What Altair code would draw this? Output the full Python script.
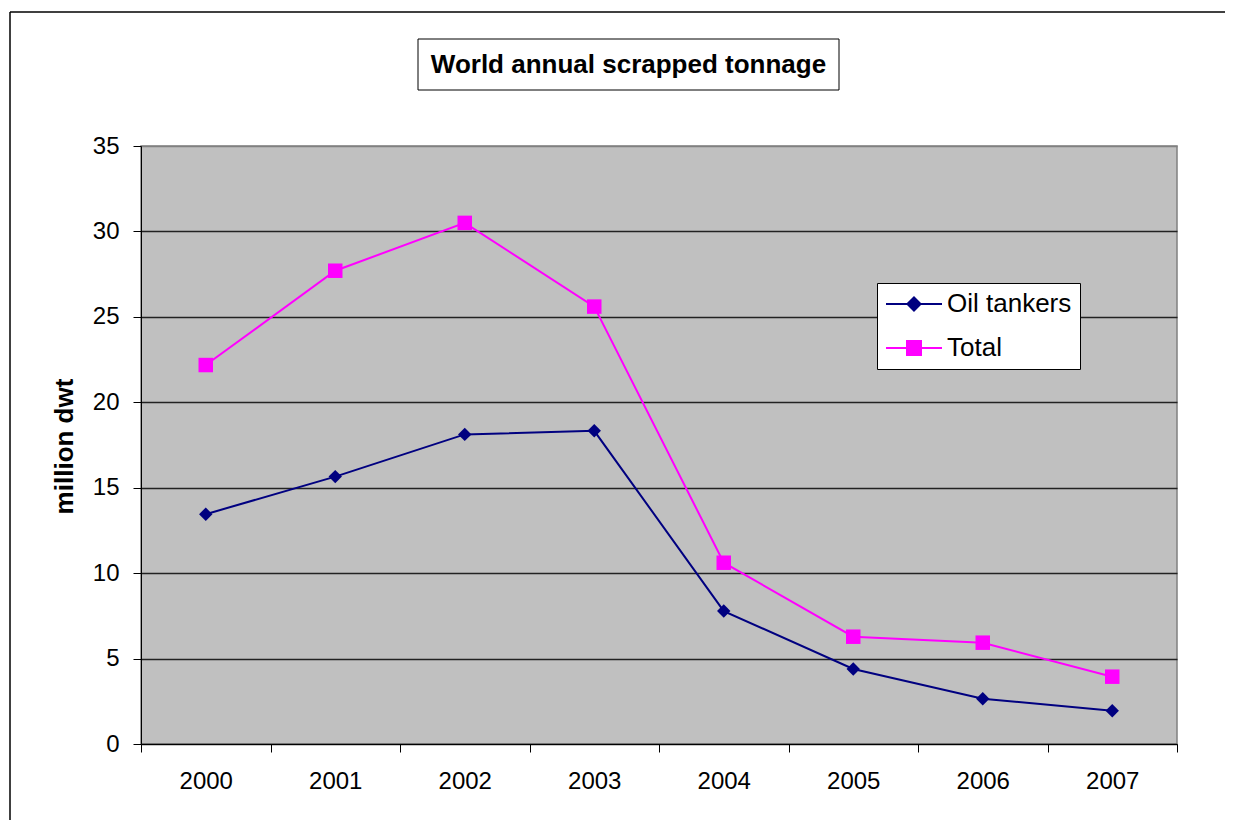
import altair as alt
import pandas as pd

years = ["2000", "2001", "2002", "2003", "2004", "2005", "2006", "2007"]
oil_tankers = [13.45, 15.65, 18.12, 18.33, 7.78, 4.39, 2.65, 1.95]
total = [22.18, 27.7, 30.5, 25.6, 10.61, 6.28, 5.93, 3.94]
series_names = ["Oil tankers", "Total"]
series_colors = ["#000080", "#FF00FF"]
marker_shapes = ["diamond", "square"]
marker_sizes = [180, 210]
legend_shapes = [
    "M-1,0L1,0M-0.235,0L0,-0.235L0.235,0L0,0.235Z",
    "M-1,0L1,0M-0.25,-0.25L0.25,-0.25L0.25,0.25L-0.25,0.25Z",
]
y_ticks = [0, 5, 10, 15, 20, 25, 30, 35]
chart_title = "World annual scrapped tonnage"
y_title = "million dwt"

rows = []
for i, yr in enumerate(years):
    rows.append({"year": yr, "series": series_names[0], "value": oil_tankers[i]})
    rows.append({"year": yr, "series": series_names[1], "value": total[i]})
df = pd.DataFrame(rows)

FONT = "Liberation Sans"

x_enc = alt.X(
    "year:N",
    sort=years,
    bandPosition=0.5,
    scale=alt.Scale(type="band", paddingInner=0, paddingOuter=0),
    axis=alt.Axis(
        title=None,
        labelAngle=0,
        labelFont=FONT,
        labelFontSize=24,
        labelColor="black",
        labelPadding=17,
        tickSize=8,
        tickColor="black",
        tickBand="extent",
        domainColor="black",
        domainWidth=1,
        grid=False,
    ),
)
y_enc = alt.Y(
    "value:Q",
    scale=alt.Scale(domain=[0, 35], nice=False),
    axis=alt.Axis(
        values=y_ticks,
        title=y_title,
        titleFont=FONT,
        titleFontSize=26,
        titleFontWeight="bold",
        titleColor="black",
        titleAngle=270,
        titleX=-77,
        titleY=300,
        titleAlign="center",
        titleBaseline="middle",
        labelFont=FONT,
        labelFontSize=24,
        labelColor="black",
        labelPadding=14,
        tickSize=8,
        tickColor="black",
        domainColor="black",
        grid=True,
        gridColor=alt.condition("datum.value == 35", alt.value("#808080"), alt.value("#222222")),
        gridWidth=1.3,
    ),
)

color_scale = alt.Scale(domain=series_names, range=series_colors)

lines = alt.Chart(df).mark_line(strokeWidth=2).encode(
    x=x_enc, y=y_enc,
    color=alt.Color("series:N", scale=color_scale, legend=None),
)

points = alt.Chart(df).mark_point(filled=True, opacity=1).encode(
    x=x_enc, y=y_enc,
    color=alt.Color("series:N", scale=color_scale, legend=None),
    shape=alt.Shape("series:N", scale=alt.Scale(domain=series_names, range=marker_shapes), legend=None),
    size=alt.Size("series:N", scale=alt.Scale(domain=series_names, range=marker_sizes), legend=None),
)

leg = dict(
    title=None,
    orient="none",
    legendX=736,
    legendY=137,
    direction="vertical",
    fillColor="white",
    strokeColor="black",
    padding=8,
    labelFont=FONT,
    labelFontSize=26,
    labelColor="black",
    labelOffset=4,
    rowPadding=18,
    clipHeight=26,
    symbolSize=3136,
    symbolStrokeWidth=2,
    symbolOpacity=1,
)

legend_layer = alt.Chart(df).mark_point(filled=True, opacity=0, strokeWidth=2).encode(
    x=x_enc, y=y_enc,
    color=alt.Color("series:N", scale=alt.Scale(domain=series_names, range=series_colors), legend=alt.Legend(**leg)),
    stroke=alt.Stroke("series:N", scale=alt.Scale(domain=series_names, range=series_colors), legend=alt.Legend(**leg)),
    shape=alt.Shape("series:N", scale=alt.Scale(domain=series_names, range=legend_shapes), legend=alt.Legend(**leg)),
)

one = alt.Data(values=[{"k": 1}])

title_box = alt.Chart(one).mark_rect(fill="white", stroke="black", strokeWidth=1).encode(
    x=alt.value(277), x2=alt.value(698), y=alt.value(-107), y2=alt.value(-56)
)
title_text = alt.Chart(one).mark_text(
    text=chart_title, font=FONT, fontSize=26, fontWeight="bold", color="black",
    align="center", baseline="middle",
).encode(x=alt.value(487.5), y=alt.value(-81.5))

border_left = alt.Chart(one).mark_rule(color="black", strokeWidth=1.5).encode(
    x=alt.value(-131), y=alt.value(-134), y2=alt.value(680)
)
border_top = alt.Chart(one).mark_rule(color="black", strokeWidth=1.5).encode(
    x=alt.value(-131), x2=alt.value(1084), y=alt.value(-134)
)

chart = alt.layer(
    border_left, border_top, title_box, title_text, lines, points, legend_layer
).resolve_scale(
    color="independent", shape="independent", size="independent", stroke="independent"
).properties(
    width=1036,
    height=598,
    padding={"left": 133, "top": 138, "right": 51, "bottom": 76},
    autosize=alt.AutoSizeParams(type="none"),
    background="white",
).configure_view(fill="#C0C0C0", stroke="#808080", strokeWidth=1.5)

chart.save("out.html", embed_options={"renderer": "svg", "actions": False})
